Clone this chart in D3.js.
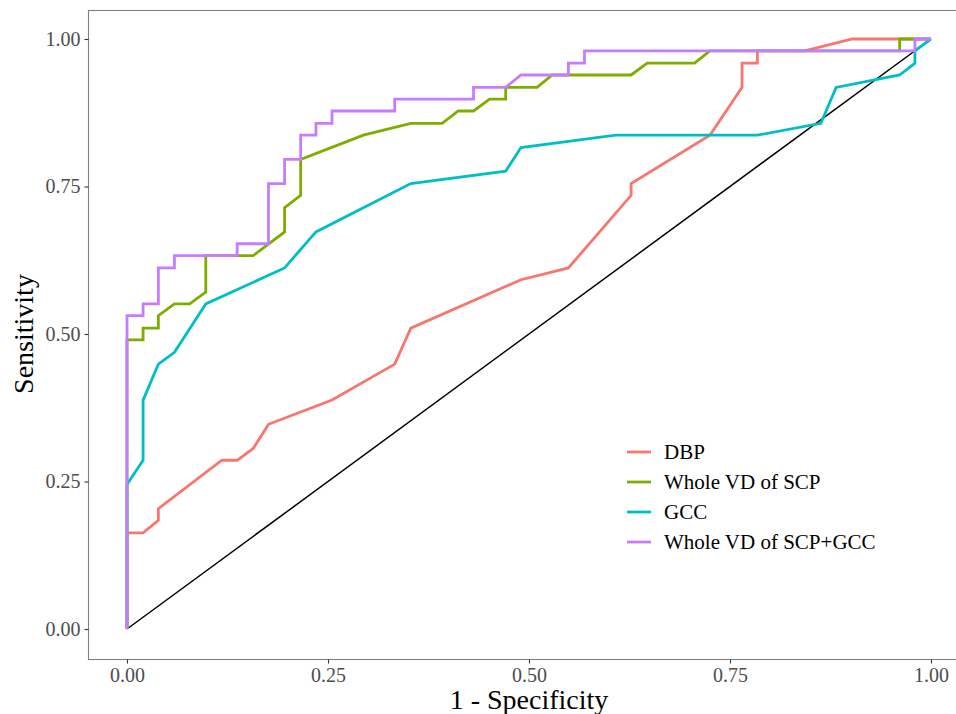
<!DOCTYPE html>
<html>
<head>
<meta charset="utf-8">
<script src="https://cdn.jsdelivr.net/npm/d3@7"></script>
<style>
  body { margin: 0; background: #fff; }
  text { font-family: "Liberation Serif", "Times New Roman", serif; }
</style>
</head>
<body>
<svg id="chart" width="956" height="714"></svg>
<script>
// ROC curves, points are [1 - specificity, sensitivity]
const seriesNames = ["DBP", "Whole VD of SCP", "GCC", "Whole VD of SCP+GCC"];
const seriesColors = ["#F8766D", "#7CAE00", "#00BFC4", "#C77CFF"];

const dbp = [[0,0],[0,0.163],[0.020,0.163],[0.039,0.184],[0.039,0.204],[0.118,0.286],[0.137,0.286],
  [0.157,0.306],[0.176,0.347],[0.255,0.388],[0.333,0.449],[0.353,0.510],[0.490,0.592],[0.549,0.612],
  [0.627,0.735],[0.627,0.755],[0.725,0.837],[0.765,0.918],[0.765,0.959],[0.784,0.959],[0.784,0.980],
  [0.843,0.980],[0.902,1],[1,1]];

const wholeVD = [[0,0],[0,0.490],[0.020,0.490],[0.020,0.510],[0.039,0.510],[0.039,0.531],[0.059,0.551],
  [0.078,0.551],[0.098,0.571],[0.098,0.633],[0.157,0.633],[0.196,0.673],[0.196,0.714],[0.216,0.735],
  [0.216,0.796],[0.294,0.837],[0.353,0.857],[0.392,0.857],[0.412,0.878],[0.431,0.878],[0.451,0.898],
  [0.471,0.898],[0.471,0.918],[0.510,0.918],[0.529,0.939],[0.627,0.939],[0.647,0.959],[0.706,0.959],
  [0.725,0.980],[0.961,0.980],[0.961,1],[1,1]];

const gcc = [[0,0],[0,0.245],[0.020,0.286],[0.020,0.388],[0.039,0.449],[0.059,0.469],[0.098,0.551],
  [0.196,0.612],[0.235,0.673],[0.353,0.755],[0.471,0.776],[0.490,0.816],[0.608,0.837],[0.784,0.837],
  [0.863,0.857],[0.882,0.918],[0.961,0.939],[0.980,0.959],[0.980,0.980],[1,1]];

const combined = [[0,0],[0,0.531],[0.020,0.531],[0.020,0.551],[0.039,0.551],[0.039,0.612],[0.059,0.612],
  [0.059,0.633],[0.137,0.633],[0.137,0.653],[0.176,0.653],[0.176,0.755],[0.196,0.755],[0.196,0.796],
  [0.216,0.796],[0.216,0.837],[0.235,0.837],[0.235,0.857],[0.255,0.857],[0.255,0.878],[0.333,0.878],
  [0.333,0.898],[0.431,0.898],[0.431,0.918],[0.471,0.918],[0.490,0.939],[0.549,0.939],[0.549,0.959],
  [0.569,0.959],[0.569,0.980],[0.980,0.980],[0.980,1],[1,1]];

const tickValues = [0, 0.25, 0.5, 0.75, 1];
const tickLabels = ["0.00", "0.25", "0.50", "0.75", "1.00"];

const seriesData = [dbp, wholeVD, gcc, combined];

const svg = d3.select("#chart");

// panel box
const panel = { left: 88.5, top: 10.5, right: 962, bottom: 659.5 };

const x = d3.scaleLinear().domain([0, 1]).range([127, 931]);
const y = d3.scaleLinear().domain([0, 1]).range([629, 39]);

svg.append("rect")
  .attr("x", panel.left)
  .attr("y", panel.top)
  .attr("width", panel.right - panel.left)
  .attr("height", panel.bottom - panel.top)
  .attr("fill", "#fff")
  .attr("stroke", "#7F7F7F")
  .attr("stroke-width", 1.1);

// axes
const xAxis = svg.append("g")
  .attr("transform", `translate(0,${panel.bottom})`)
  .call(d3.axisBottom(x).tickValues(tickValues).tickFormat((d, i) => tickLabels[i]).tickSize(4).tickPadding(4));
const yAxis = svg.append("g")
  .attr("transform", `translate(${panel.left},0)`)
  .call(d3.axisLeft(y).tickValues(tickValues).tickFormat((d, i) => tickLabels[i]).tickSize(4).tickPadding(4));

[xAxis, yAxis].forEach(g => {
  g.select(".domain").remove();
  g.selectAll(".tick line").attr("stroke", "#333").attr("stroke-width", 1.1);
  g.selectAll(".tick text")
    .attr("fill", "#4D4D4D")
    .style("font-size", "20px")
    .style("font-family", "'Liberation Serif', serif");
});
xAxis.selectAll(".tick text").attr("dy", "0.7em");

// reference diagonal
svg.append("line")
  .attr("x1", x(0)).attr("y1", y(0))
  .attr("x2", x(1)).attr("y2", y(1))
  .attr("stroke", "#000")
  .attr("stroke-width", 1.5);

const line = d3.line()
  .x(d => x(d[0]))
  .y(d => y(d[1]));

svg.append("g")
  .selectAll("path")
  .data(seriesData)
  .join("path")
  .attr("d", line)
  .attr("fill", "none")
  .attr("stroke", (d, i) => seriesColors[i])
  .attr("stroke-width", 2.8)
  .attr("stroke-linejoin", "miter");

// axis titles
svg.append("text")
  .attr("x", (x(0) + x(1)) / 2)
  .attr("y", 709)
  .attr("text-anchor", "middle")
  .style("font-size", "28px")
  .attr("fill", "#000")
  .text("1 - Specificity");

svg.append("text")
  .attr("transform", `translate(33,${(y(0) + y(1)) / 2}) rotate(-90)`)
  .attr("text-anchor", "middle")
  .style("font-size", "28px")
  .attr("fill", "#000")
  .text("Sensitivity");

// legend
const legend = svg.append("g").attr("transform", "translate(627,452)");
const item = legend.selectAll("g")
  .data(seriesNames)
  .join("g")
  .attr("transform", (d, i) => `translate(0,${i * 30})`);
item.append("line")
  .attr("x1", 0).attr("x2", 24)
  .attr("stroke", (d, i) => seriesColors[i])
  .attr("stroke-width", 2.8);
item.append("text")
  .attr("x", 37)
  .attr("dy", "0.35em")
  .style("font-size", "21px")
  .attr("fill", "#000")
  .text(d => d);
</script>
</body>
</html>
